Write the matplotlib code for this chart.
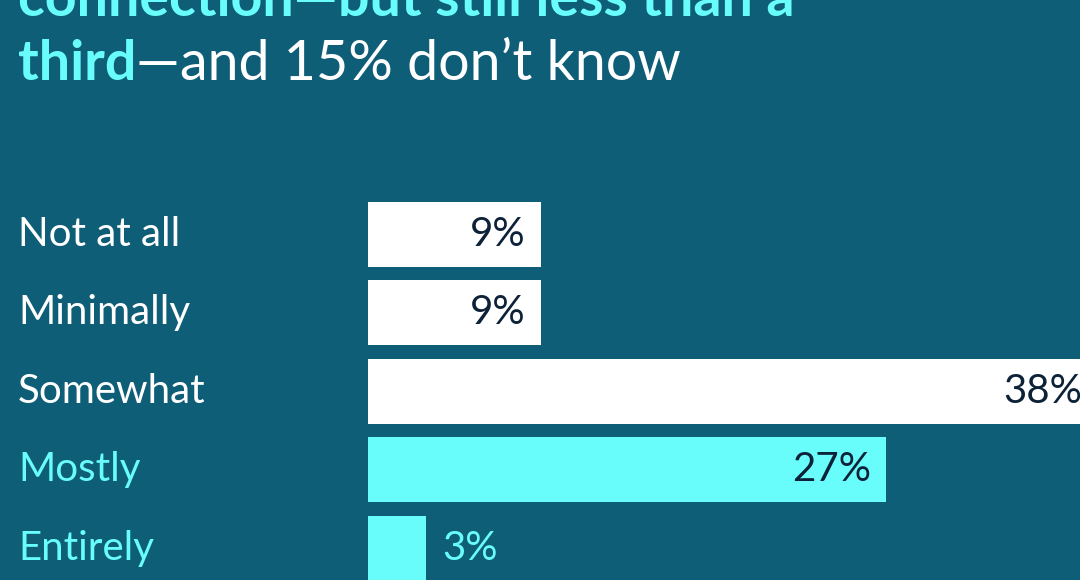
import matplotlib
matplotlib.use("Agg")
import matplotlib.pyplot as plt

categories = ["Not at all", "Minimally", "Somewhat", "Mostly", "Entirely"]
values = [9, 9, 38, 27, 3]
highlight = [False, False, False, True, True]
title_bold_1 = "connection—but still less than a"
title_bold_2 = "third"
title_rest_2 = "—and 15% don’t know"

BG = "#0f5e78"
CYAN = "#68fcfb"
WHITE = "#ffffff"
DARK = "#0d2238"
FONT = ["Lato", "DejaVu Sans"]

W, H = 1080, 580
fig = plt.figure(figsize=(W / 100, H / 100), dpi=100, facecolor=BG)

x0 = 368
px_per_pct = 19.2
pitch = 78.4
c0 = 234.5
ax = fig.add_axes([x0 / W, 0, 1 - x0 / W, 1])
ax.set_facecolor(BG)
ax.set_xlim(0, (W - x0) / px_per_pct)
ax.set_ylim((H - c0) / pitch, -c0 / pitch)
ax.axis("off")

ypos = list(range(len(categories)))
colors = [CYAN if h else WHITE for h in highlight]
ax.barh(ypos, values, height=65 / pitch, color=colors, clip_on=False)

for y, v, h, cat in zip(ypos, values, highlight, categories):
    fig.text(18 / W, 1 - (c0 + pitch * y) / H, cat, ha="left", va="center",
             fontsize=29, color=CYAN if h else WHITE, family=FONT)
    if v >= 5:
        ax.annotate(f"{v}%", (v, y), xytext=(-15, 0), textcoords="offset pixels",
                    ha="right", va="center", fontsize=29, color=DARK,
                    family=FONT, annotation_clip=False)
    else:
        ax.annotate(f"{v}%", (v, y), xytext=(17, 0), textcoords="offset pixels",
                    ha="left", va="center", fontsize=29, color=CYAN,
                    family=FONT, annotation_clip=False)

# Title (partially cut off at the top, as in the reference crop)
t1 = fig.text(18 / W, 1 - 16 / H, title_bold_1, ha="left", va="baseline",
              fontsize=40, color=CYAN, fontweight="bold", family=FONT)
t2 = fig.text(18 / W, 1 - 80 / H, title_bold_2, ha="left", va="baseline",
              fontsize=40, color=CYAN, fontweight="bold", family=FONT)
fig.canvas.draw()
bb = t2.get_window_extent()
fig.text(bb.x1 / W, 1 - 80 / H, title_rest_2, ha="left", va="baseline",
         fontsize=40, color=WHITE, family=FONT)

fig.savefig("out.png", dpi=100, facecolor=BG)
